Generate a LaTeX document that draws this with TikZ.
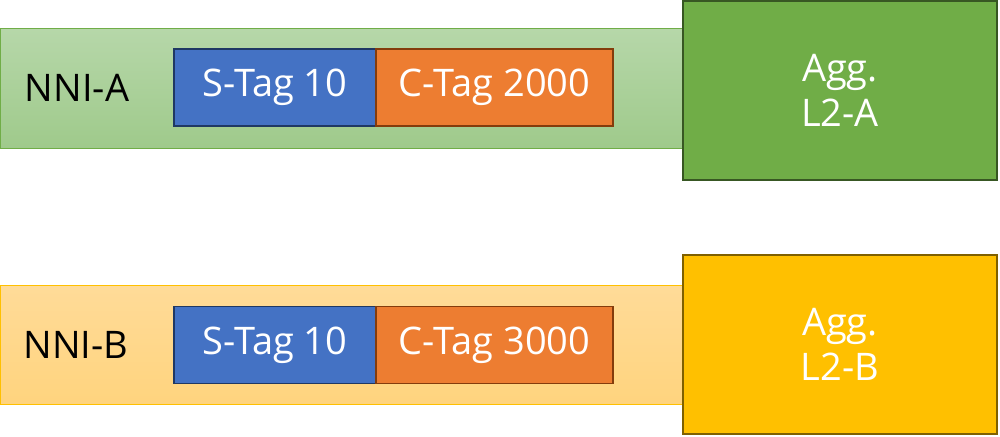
\documentclass[tikz,border=0pt]{standalone}
\usepackage{fontspec}
\setmainfont{Open Sans}
\definecolor{barGtop}{RGB}{182,215,169}
\definecolor{barGbot}{RGB}{159,202,139}
\definecolor{barGline}{RGB}{112,173,71}
\definecolor{aggG}{RGB}{112,173,71}
\definecolor{aggGline}{RGB}{56,87,35}
\definecolor{barYtop}{RGB}{255,219,152}
\definecolor{barYbot}{RGB}{255,212,126}
\definecolor{barYline}{RGB}{255,192,0}
\definecolor{aggY}{RGB}{255,192,0}
\definecolor{aggYline}{RGB}{127,96,0}
\definecolor{sblue}{RGB}{68,114,196}
\definecolor{sblueline}{RGB}{31,56,100}
\definecolor{corange}{RGB}{237,125,49}
\definecolor{corangeline}{RGB}{132,60,12}
\tikzset{
  box/.style={rectangle, inner sep=0pt, font=\fontsize{38}{45}\selectfont, align=center},
  bar/.style={box, draw, line width=1pt, minimum width=684pt, minimum height=119pt},
  agg/.style={box, draw, line width=2pt, minimum width=314pt, minimum height=179pt, text=white},
  stag/.style={box, draw=sblueline, fill=sblue, line width=1.5pt, minimum width=202pt, minimum height=77pt, text=white},
  ctag/.style={box, draw=corangeline, fill=corange, line width=1.5pt, minimum width=237pt, minimum height=77pt, text=white},
  lbl/.style={box, text=black}
}
\begin{document}
\begin{tikzpicture}[x=1pt,y=-1pt]
\useasboundingbox (0,0) rectangle (1000,436);
% Row A
\node[bar, draw=barGline, top color=barGtop, bottom color=barGbot] (barA) at (342,88.5) {};
\node[lbl] (nniA) at (77,88) {NNI-A};
\node[stag] (sA) at (275,87.5) {S-Tag 10};
\node[ctag] (cA) at (494.5,87.5) {C-Tag 2000};
\node[agg, draw=aggGline, fill=aggG] (aggA) at (840,90.5) {Agg.\\L2-A};
% Row B
\node[bar, draw=barYline, top color=barYtop, bottom color=barYbot] (barB) at (342,345) {};
\node[lbl] (nniB) at (76,345) {NNI-B};
\node[stag] (sB) at (275,345) {S-Tag 10};
\node[ctag] (cB) at (494.5,345) {C-Tag 3000};
\node[agg, draw=aggYline, fill=aggY] (aggB) at (840,344) {Agg.\\L2-B};
\end{tikzpicture}
\end{document}
